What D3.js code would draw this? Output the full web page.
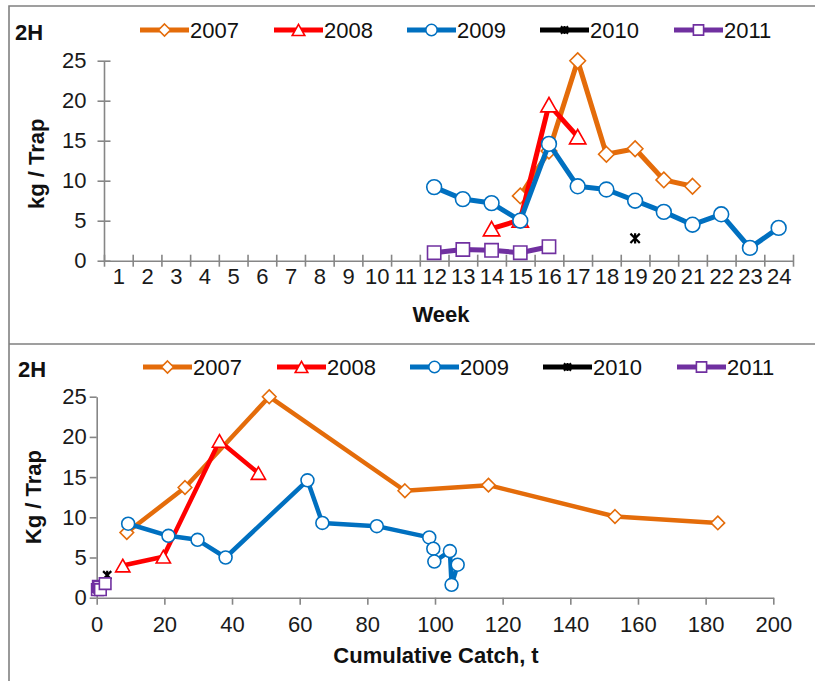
<!DOCTYPE html>
<html>
<head>
<meta charset="utf-8">
<script src="https://cdn.jsdelivr.net/npm/d3@7"></script>
<style>
  body { margin: 0; background: #fff; }
  svg { display: block; font-family: "Liberation Sans", Arial, sans-serif; }
</style>
</head>
<body>
<svg id="chart" width="815" height="681"></svg>
<script>
// ---- data ----
const years = ["2007", "2008", "2009", "2010", "2011"];
const seriesColors = ["#E46C0A", "#FF0000", "#0070C0", "#000000", "#7030A0"];
const markerKinds = ["diamond", "triangle", "circle", "star", "square"];

const weekTicks = d3.range(1, 25);
const kgTicks = [0, 5, 10, 15, 20, 25];
const catchTicks = [0, 20, 40, 60, 80, 100, 120, 140, 160, 180, 200];

// week of sampling, catch rate (kg / trap) and cumulative catch (t) per season
const weeks2007 = [15, 16, 17, 18, 19, 20, 21];
const kg2007 = [8.1, 13.7, 25.0, 13.3, 14.0, 10.1, 9.3];
const catch2007 = [8.9, 26.1, 51.0, 91.1, 115.8, 153.2, 183.6];

const weeks2008 = [14, 15, 16, 17];
const kg2008 = [4.0, 5.1, 19.5, 15.5];
const catch2008 = [7.7, 19.7, 36.3, 47.8];

const weeks2009 = [12, 13, 14, 15, 16, 17, 18, 19, 20, 21, 22, 23, 24];
const kg2009 = [9.2, 7.7, 7.2, 5.0, 14.6, 9.3, 8.9, 7.5, 6.1, 4.5, 5.8, 1.6, 4.1];
const catch2009 = [9.3, 21.2, 29.8, 38.1, 62.3, 66.7, 82.8, 98.3, 99.5, 99.8, 104.4, 104.9, 106.7];

const weeks2010 = [19];
const kg2010 = [2.8];
const catch2010 = [3.1];

const weeks2011 = [12, 13, 14, 15, 16];
const kg2011 = [1.0, 1.4, 1.3, 1.0, 1.75];
const catch2011 = [0.2, 0.5, 0.8, 1.1, 2.5];

const seasons = [
  { weeks: weeks2007, kg: kg2007, cum: catch2007 },
  { weeks: weeks2008, kg: kg2008, cum: catch2008 },
  { weeks: weeks2009, kg: kg2009, cum: catch2009 },
  { weeks: weeks2010, kg: kg2010, cum: catch2010 },
  { weeks: weeks2011, kg: kg2011, cum: catch2011 }
].map((s, i) => ({ ...s, year: years[i], color: seriesColors[i], kind: markerKinds[i] }));

// ---- helpers ----
const svg = d3.select("#chart");
const axisGrey = "#868686";
const FONT = 22;

function markerPath(kind, size) {
  const p = d3.path();
  if (kind === "diamond") {
    p.moveTo(0, -size); p.lineTo(size, 0); p.lineTo(0, size); p.lineTo(-size, 0); p.closePath();
  } else if (kind === "triangle") {
    const w = size * 2.1, h = size * 1.85;
    p.moveTo(0, -h / 2); p.lineTo(w / 2, h / 2); p.lineTo(-w / 2, h / 2); p.closePath();
  } else if (kind === "square") {
    const s = size * 0.85;
    p.rect(-s, -s, 2 * s, 2 * s);
  } else if (kind === "circle") {
    p.arc(0, 0, size * 0.95, 0, 2 * Math.PI);
  } else if (kind === "star") {
    const s = size * 0.6;
    p.moveTo(-s, -s); p.lineTo(s, s);
    p.moveTo(s, -s); p.lineTo(-s, s);
    p.moveTo(0, -s * 1.1); p.lineTo(0, s * 1.1);
  }
  return p.toString();
}

function drawMarker(g, kind, color, size, x, y) {
  const m = g.append("path")
    .attr("d", markerPath(kind, size))
    .attr("transform", `translate(${x},${y})`);
  if (kind === "star") {
    m.attr("fill", "none").attr("stroke", color).attr("stroke-width", 2.2);
  } else {
    m.attr("fill", "#fff").attr("stroke", color).attr("stroke-width", 1.6);
  }
}

function drawSeries(g, xs, ys, xScale, yScale, s, lineWidth, mSize) {
  const pts = xs.map((x, i) => [xScale(x), yScale(ys[i])]);
  if (pts.length > 1) {
    g.append("path")
      .attr("d", d3.line()(pts))
      .attr("fill", "none")
      .attr("stroke", s.color)
      .attr("stroke-width", lineWidth)
      .attr("stroke-linejoin", "round");
  }
  pts.forEach(([x, y]) => drawMarker(g, s.kind, s.color, mSize, x, y));
}

function drawLegend(y, shift) {
  const lineStarts = [143, 277, 410, 543, 677];
  const g = svg.append("g").attr("font-size", FONT);
  g.append("text").attr("x", 18 + shift).attr("y", y + 2)
    .attr("font-weight", "bold").attr("fill", "#111").text("2H");
  seasons.forEach((s, i) => {
    const x0 = lineStarts[i] + shift, x1 = x0 + 49, cy = y - 8;
    g.append("line").attr("x1", x0).attr("x2", x1).attr("y1", cy).attr("y2", cy)
      .attr("stroke", s.color).attr("stroke-width", 5);
    drawMarker(g, s.kind, s.color, 6, (x0 + x1) / 2, cy);
    g.append("text").attr("x", x1 + 1).attr("y", y).attr("fill", "#111").text(s.year);
  });
}

function styleAxis(g) {
  g.select(".domain").attr("stroke", axisGrey).attr("stroke-width", 1.6);
  g.selectAll(".tick line").attr("stroke", axisGrey).attr("stroke-width", 1.6);
  g.selectAll(".tick text").attr("fill", "#1a1a1a").attr("font-size", FONT)
    .attr("font-family", '"Liberation Sans", Arial, sans-serif');
}

// ---- panel frames ----
svg.append("path")
  .attr("d", "M9,681 V6 H815 M9,344 H815")
  .attr("fill", "none").attr("stroke", "#808080").attr("stroke-width", 1.6);

// ---- top panel: catch rate by week ----
const topX = d3.scaleLinear().domain([0.5, 24.5]).range([104, 793]);
const topY = d3.scaleLinear().domain([0, 25]).range([260.7, 60.7]);

const gTopYAxis = svg.append("g").attr("transform", `translate(${topX.range()[0]},0)`)
  .call(d3.axisLeft(topY).tickValues(kgTicks).tickSize(6.5).tickSizeOuter(0).tickPadding(11));
gTopYAxis.selectAll(".tick line").attr("x1", 6.5);
styleAxis(gTopYAxis);

// tick marks sit on the week boundaries, labels in the middle of each week
const gTopXTicks = svg.append("g").attr("transform", `translate(0,${topY(0)})`)
  .call(d3.axisBottom(topX).tickValues(d3.range(0.5, 25, 1)).tickSize(6).tickSizeOuter(0).tickFormat(""));
gTopXTicks.selectAll(".tick line").attr("y1", -6);
styleAxis(gTopXTicks);
const gTopXLabels = svg.append("g").attr("transform", `translate(0,${topY(0)})`)
  .call(d3.axisBottom(topX).tickValues(weekTicks).tickSize(0).tickPadding(7.7).tickFormat(d3.format("d")));
gTopXLabels.select(".domain").remove();
styleAxis(gTopXLabels);

svg.append("text").attr("x", 441).attr("y", 322).attr("text-anchor", "middle")
  .attr("font-size", FONT).attr("font-weight", "bold").attr("fill", "#111").text("Week");
svg.append("text").attr("transform", `translate(44,${(topY(0) + topY(25)) / 2 + 3}) rotate(-90)`)
  .attr("text-anchor", "middle").attr("font-size", FONT).attr("font-weight", "bold")
  .attr("fill", "#111").text("kg / Trap");

const gTopSeries = svg.append("g");
seasons.forEach(s => drawSeries(gTopSeries, s.weeks, s.kg, topX, topY, s, 5, 7.8));

drawLegend(38, -3);

// ---- bottom panel: catch rate against cumulative catch ----
const botX = d3.scaleLinear().domain([0, 200]).range([96.7, 773.3]);
const botY = d3.scaleLinear().domain([0, 25]).range([597.7, 396.7]);

const gBotYAxis = svg.append("g").attr("transform", `translate(${botX(0)},0)`)
  .call(d3.axisLeft(botY).tickValues(kgTicks).tickSize(7).tickSizeOuter(0).tickPadding(3));
styleAxis(gBotYAxis);
const gBotXAxis = svg.append("g").attr("transform", `translate(0,${botY(0)})`)
  .call(d3.axisBottom(botX).tickValues(catchTicks).tickSize(7).tickSizeOuter(0).tickPadding(11.7));
styleAxis(gBotXAxis);

svg.append("text").attr("x", 436).attr("y", 663).attr("text-anchor", "middle")
  .attr("font-size", FONT).attr("font-weight", "bold").attr("fill", "#111").text("Cumulative Catch, t");
svg.append("text").attr("transform", `translate(41,${(botY(0) + botY(25)) / 2 + 0}) rotate(-90)`)
  .attr("text-anchor", "middle").attr("font-size", FONT).attr("font-weight", "bold")
  .attr("fill", "#111").text("Kg / Trap");

const gBotSeries = svg.append("g");
seasons.forEach(s => drawSeries(gBotSeries, s.cum, s.kg, botX, botY, s, 4.5, 6.8));

drawLegend(375, 0);
</script>
</body>
</html>
